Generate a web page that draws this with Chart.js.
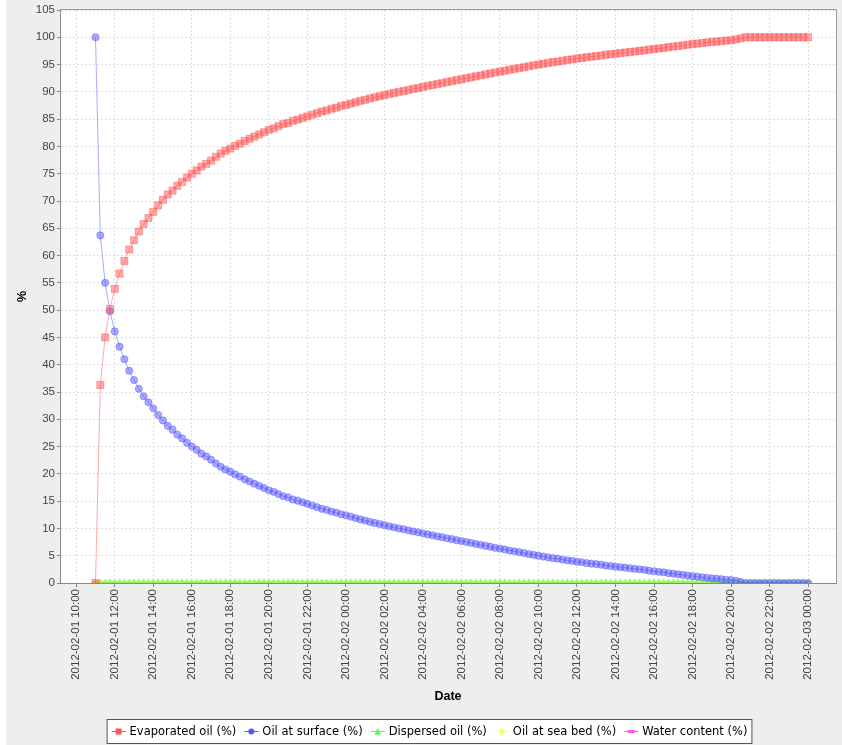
<!DOCTYPE html>
<html>
<head>
<meta charset="utf-8">
<script src="https://cdn.jsdelivr.net/npm/chart.js@4.4.0/dist/chart.umd.min.js"></script>
<style>
  html, body { margin: 0; padding: 0; background: #eeeeee; }
  canvas { display: block; }
</style>
</head>
<body>
<canvas id="grafica" width="842" height="745"></canvas>
<script>
// horas desde 2012-02-01 00:00, un punto cada 15 minutos desde las 11:00
var horaInicio = 11;
var paso = 0.25;

var evaporado = [
  0, 36.3, 45.0, 50.2, 53.9, 56.7, 59.0, 61.1, 62.8, 64.4, 65.8, 66.9, 68.0,
  69.2, 70.2, 71.2, 71.9, 72.8, 73.5, 74.3, 75.0, 75.6, 76.3, 76.8, 77.4,
  78.1, 78.7, 79.2, 79.6, 80.1, 80.5, 81.0, 81.4, 81.8, 82.2, 82.6, 83.0,
  83.3, 83.7, 84.1, 84.3, 84.7, 84.9, 85.2, 85.5, 85.8, 86.1, 86.4, 86.6,
  86.9, 87.1, 87.4, 87.6,
  87.85, 88.1, 88.35, 88.55, 88.8, 89.0, 89.2, 89.4,
  89.6, 89.8, 90.0, 90.15, 90.35, 90.55, 90.7, 90.9,
  91.1, 91.25, 91.45, 91.6, 91.8, 91.95, 92.15, 92.3,
  92.5, 92.65, 92.85, 93.0, 93.2, 93.35, 93.55, 93.7,
  93.85, 94.05, 94.2, 94.35, 94.5, 94.7, 94.85, 95.0,
  95.15, 95.3, 95.45, 95.55, 95.7, 95.85, 95.95, 96.1,
  96.2, 96.35, 96.45, 96.55, 96.65, 96.8, 96.9, 97.0,
  97.1, 97.2, 97.3, 97.4, 97.5, 97.6, 97.75, 97.85,
  97.95, 98.05, 98.2, 98.3, 98.4, 98.5, 98.65, 98.75,
  98.85, 98.95, 99.05, 99.15, 99.2, 99.3, 99.4, 99.45,
  99.6, 99.8, 100, 100, 100, 100, 100, 100,
  100, 100, 100, 100, 100, 100, 100, 100
];

var superficie = [
  100, 63.7, 55.0, 49.8, 46.1, 43.3, 41.0, 38.9, 37.2, 35.6, 34.2, 33.1, 32.0,
  30.8, 29.8, 28.8, 28.1, 27.2, 26.5, 25.7, 25.0, 24.4, 23.7, 23.2, 22.6,
  21.9, 21.3, 20.8, 20.4, 19.9, 19.5, 19.0, 18.6, 18.2, 17.8, 17.4, 17.0,
  16.7, 16.3, 15.9, 15.7, 15.3, 15.1, 14.8, 14.5, 14.2, 13.9, 13.6, 13.4,
  13.1, 12.9, 12.6, 12.4,
  12.15, 11.9, 11.65, 11.45, 11.2, 11.0, 10.8, 10.6,
  10.4, 10.2, 10.0, 9.85, 9.65, 9.45, 9.3, 9.1,
  8.9, 8.75, 8.55, 8.4, 8.2, 8.05, 7.85, 7.7,
  7.5, 7.35, 7.15, 7.0, 6.8, 6.65, 6.45, 6.3,
  6.15, 5.95, 5.8, 5.65, 5.5, 5.3, 5.15, 5.0,
  4.85, 4.7, 4.55, 4.45, 4.3, 4.15, 4.05, 3.9,
  3.8, 3.65, 3.55, 3.45, 3.35, 3.2, 3.1, 3.0,
  2.9, 2.8, 2.7, 2.6, 2.5, 2.4, 2.25, 2.15,
  2.05, 1.95, 1.8, 1.7, 1.6, 1.5, 1.35, 1.25,
  1.15, 1.05, 0.95, 0.85, 0.8, 0.7, 0.6, 0.55,
  0.4, 0.2, 0, 0, 0, 0, 0, 0,
  0, 0, 0, 0, 0, 0, 0, 0
];

var dispersado = [
  0, 0, 0, 0, 0, 0, 0, 0, 0, 0, 0, 0, 0,
  0, 0, 0, 0, 0, 0, 0, 0, 0, 0, 0, 0,
  0, 0, 0, 0, 0, 0, 0, 0, 0, 0, 0, 0,
  0, 0, 0, 0, 0, 0, 0, 0, 0, 0, 0, 0,
  0, 0, 0, 0,
  0, 0, 0, 0, 0, 0, 0, 0,  0, 0, 0, 0, 0, 0, 0, 0,
  0, 0, 0, 0, 0, 0, 0, 0,  0, 0, 0, 0, 0, 0, 0, 0,
  0, 0, 0, 0, 0, 0, 0, 0,  0, 0, 0, 0, 0, 0, 0, 0,
  0, 0, 0, 0, 0, 0, 0, 0,  0, 0, 0, 0, 0, 0, 0, 0,
  0, 0, 0, 0, 0, 0, 0, 0,  0, 0, 0, 0, 0, 0, 0, 0,
  0, 0, 0, 0, 0, 0, 0, 0,  0, 0, 0, 0, 0, 0, 0, 0
];

var fondoMarino = [
  0, 0, 0, 0, 0, 0, 0, 0, 0, 0, 0, 0, 0,
  0, 0, 0, 0, 0, 0, 0, 0, 0, 0, 0, 0,
  0, 0, 0, 0, 0, 0, 0, 0, 0, 0, 0, 0,
  0, 0, 0, 0, 0, 0, 0, 0, 0, 0, 0, 0,
  0, 0, 0, 0,
  0, 0, 0, 0, 0, 0, 0, 0,  0, 0, 0, 0, 0, 0, 0, 0,
  0, 0, 0, 0, 0, 0, 0, 0,  0, 0, 0, 0, 0, 0, 0, 0,
  0, 0, 0, 0, 0, 0, 0, 0,  0, 0, 0, 0, 0, 0, 0, 0,
  0, 0, 0, 0, 0, 0, 0, 0,  0, 0, 0, 0, 0, 0, 0, 0,
  0, 0, 0, 0, 0, 0, 0, 0,  0, 0, 0, 0, 0, 0, 0, 0,
  0, 0, 0, 0, 0, 0, 0, 0,  0, 0, 0, 0, 0, 0, 0, 0
];

var contenidoAgua = [
  0, 0, 0, 0, 0, 0, 0, 0, 0, 0, 0, 0, 0,
  0, 0, 0, 0, 0, 0, 0, 0, 0, 0, 0, 0,
  0, 0, 0, 0, 0, 0, 0, 0, 0, 0, 0, 0,
  0, 0, 0, 0, 0, 0, 0, 0, 0, 0, 0, 0,
  0, 0, 0, 0,
  0, 0, 0, 0, 0, 0, 0, 0,  0, 0, 0, 0, 0, 0, 0, 0,
  0, 0, 0, 0, 0, 0, 0, 0,  0, 0, 0, 0, 0, 0, 0, 0,
  0, 0, 0, 0, 0, 0, 0, 0,  0, 0, 0, 0, 0, 0, 0, 0,
  0, 0, 0, 0, 0, 0, 0, 0,  0, 0, 0, 0, 0, 0, 0, 0,
  0, 0, 0, 0, 0, 0, 0, 0,  0, 0, 0, 0, 0, 0, 0, 0,
  0, 0, 0, 0, 0, 0, 0, 0,  0, 0, 0, 0, 0, 0, 0, 0
];

var horasTicks = [10, 12, 14, 16, 18, 20, 22, 24, 26, 28, 30, 32, 34, 36, 38, 40, 42, 44, 46, 48];
var etiquetasTicks = [
  '2012-02-01 10:00', '2012-02-01 12:00', '2012-02-01 14:00', '2012-02-01 16:00',
  '2012-02-01 18:00', '2012-02-01 20:00', '2012-02-01 22:00', '2012-02-02 00:00',
  '2012-02-02 02:00', '2012-02-02 04:00', '2012-02-02 06:00', '2012-02-02 08:00',
  '2012-02-02 10:00', '2012-02-02 12:00', '2012-02-02 14:00', '2012-02-02 16:00',
  '2012-02-02 18:00', '2012-02-02 20:00', '2012-02-02 22:00', '2012-02-03 00:00'
];

var nombres = ['Evaporated oil (%)', 'Oil at surface (%)', 'Dispersed oil (%)', 'Oil at sea bed (%)', 'Water content (%)'];
var colores = ['255, 85, 85', '85, 85, 255', '85, 255, 85', '255, 255, 85', '255, 85, 255'];
var formas = ['rect', 'circle', 'triangle', 'rectRot', 'hrect'];

var horas = [];
for (var i = 0; i < superficie.length; i++) {
  horas.push(horaInicio + i * paso);
}

function puntos(valores) {
  return valores.map(function(v, i) { return { x: horas[i], y: v }; });
}

// rectangulo horizontal (no existe en Chart.js)
function crearRectHorizontal(color) {
  var c = document.createElement('canvas');
  c.width = 7; c.height = 4;
  var g = c.getContext('2d');
  g.fillStyle = 'rgba(' + color + ', 0.5)';
  g.fillRect(0, 0, 7, 4);
  return c;
}

function crearSerie(idx, valores, radio) {
  var color = colores[idx];
  var forma = formas[idx] === 'hrect' ? crearRectHorizontal(color) : formas[idx];
  return {
    label: nombres[idx],
    data: puntos(valores),
    borderColor: 'rgba(' + color + ', 0.5)',
    backgroundColor: 'rgba(' + color + ', 0.5)',
    pointBorderColor: 'rgba(' + color + ', 0.45)',
    borderWidth: 1,
    pointBorderWidth: 1,
    pointStyle: forma,
    pointRadius: radio,
    tension: 0,
    clip: 0
  };
}

var fondoPlugin = {
  id: 'fondo',
  beforeDraw: function(chart) {
    var ctx = chart.ctx;
    var a = chart.chartArea;
    ctx.save();
    ctx.fillStyle = '#eeeeee';
    ctx.fillRect(0, 0, chart.width, chart.height);
    ctx.fillStyle = '#ffffff';
    ctx.fillRect(0, 0, 6, chart.height);
    ctx.fillRect(a.left, a.top, a.right - a.left, a.bottom - a.top);
    ctx.restore();
  },
  afterDatasetsDraw: function(chart) {
    var ctx = chart.ctx;
    var a = chart.chartArea;
    ctx.save();
    ctx.strokeStyle = '#9a9a9a';
    ctx.lineWidth = 1;
    ctx.beginPath();
    ctx.moveTo(a.left, a.top - 0.5);
    ctx.lineTo(a.right + 0.5, a.top - 0.5);
    ctx.lineTo(a.right + 0.5, a.bottom);
    ctx.stroke();
    ctx.restore();
  }
};

function dibujarForma(ctx, forma, cx, cy) {
  ctx.beginPath();
  if (forma === 'rect') {
    ctx.rect(cx - 3, cy - 3, 6, 6);
  } else if (forma === 'circle') {
    ctx.arc(cx, cy, 3, 0, Math.PI * 2);
  } else if (forma === 'triangle') {
    ctx.moveTo(cx, cy - 3.5); ctx.lineTo(cx + 3.5, cy + 3); ctx.lineTo(cx - 3.5, cy + 3);
    ctx.closePath();
  } else if (forma === 'rectRot') {
    ctx.moveTo(cx, cy - 3.5); ctx.lineTo(cx + 3.5, cy); ctx.lineTo(cx, cy + 3.5); ctx.lineTo(cx - 3.5, cy);
    ctx.closePath();
  } else {
    ctx.rect(cx - 3.5, cy - 1.5, 7, 3);
  }
  ctx.fill();
}

var leyendaPlugin = {
  id: 'leyenda',
  afterDraw: function(chart) {
    var ctx = chart.ctx;
    ctx.save();
    ctx.font = '11.5px "DejaVu Sans"';
    var largoLinea = 14, hueco = 4, separacion = 8;
    var anchos = nombres.map(function(n) { return largoLinea + hueco + ctx.measureText(n).width; });
    var total = anchos.reduce(function(a, b) { return a + b; }, 0) + separacion * (anchos.length - 1);
    var x = 429.5 - total / 2;
    var y = 731.5;
    ctx.fillStyle = '#ffffff';
    ctx.fillRect(x - 4.5, 719.5, total + 9, 24);
    ctx.strokeStyle = '#555555';
    ctx.lineWidth = 1;
    ctx.strokeRect(x - 4.5, 719.5, total + 9, 24);
    for (var i = 0; i < nombres.length; i++) {
      var color = 'rgb(' + colores[i] + ')';
      ctx.strokeStyle = color;
      ctx.fillStyle = color;
      ctx.beginPath();
      ctx.moveTo(x, y);
      ctx.lineTo(x + largoLinea, y);
      ctx.stroke();
      dibujarForma(ctx, formas[i], x + largoLinea / 2, y);
      ctx.fillStyle = '#000000';
      ctx.textBaseline = 'middle';
      ctx.fillText(nombres[i], x + largoLinea + hueco, y + 0.5);
      x += anchos[i] + separacion;
    }
    ctx.restore();
  }
};

var fuenteTicks = { family: '"Liberation Sans", Arial, sans-serif', size: 11.5 };

var grafica = new Chart(document.getElementById('grafica').getContext('2d'), {
  type: 'line',
  data: {
    datasets: [
      crearSerie(0, evaporado, 5),
      crearSerie(1, superficie, 3.6),
      crearSerie(2, dispersado, 4),
      crearSerie(3, fondoMarino, 4),
      crearSerie(4, contenidoAgua, 4)
    ]
  },
  options: {
    responsive: false,
    animation: false,
    devicePixelRatio: 1,
    layout: { padding: { top: 10, right: 2, bottom: 28, left: 0 } },
    plugins: {
      legend: { display: false },
      tooltip: { enabled: false }
    },
    scales: {
      x: {
        type: 'linear',
        min: 9.157,
        max: 49.45,
        afterBuildTicks: function(scale) {
          scale.ticks = horasTicks.map(function(h) { return { value: h }; });
        },
        afterFit: function(scale) { scale.height = 134; },
        ticks: {
          autoSkip: false,
          minRotation: 90,
          maxRotation: 90,
          padding: 2,
          color: '#444444',
          font: fuenteTicks,
          callback: function(v, i) { return etiquetasTicks[i]; }
        },
        grid: {
          color: '#dddddd',
          tickColor: '#888888',
          tickLength: 4,
          tickBorderDash: []
        },
        border: { color: '#888888', dash: [2, 2] },
        title: {
          display: true,
          text: 'Date',
          color: '#000000',
          font: { family: '"Liberation Sans", Arial, sans-serif', size: 12.5, weight: 'bold' },
          padding: { top: 4, bottom: 13 }
        }
      },
      y: {
        min: 0,
        max: 105,
        afterFit: function(scale) { scale.width = 60; },
        ticks: {
          stepSize: 5,
          padding: 2,
          color: '#444444',
          font: fuenteTicks
        },
        grid: {
          color: '#dddddd',
          tickColor: '#888888',
          tickLength: 3,
          tickBorderDash: []
        },
        border: { color: '#888888', dash: [2, 2] },
        title: {
          display: true,
          text: '%',
          color: '#000000',
          font: { family: '"Liberation Sans", Arial, sans-serif', size: 12.5, weight: 'bold' },
          padding: { top: 15, bottom: 0 }
        }
      }
    }
  },
  plugins: [fondoPlugin, leyendaPlugin]
});
</script>
</body>
</html>
